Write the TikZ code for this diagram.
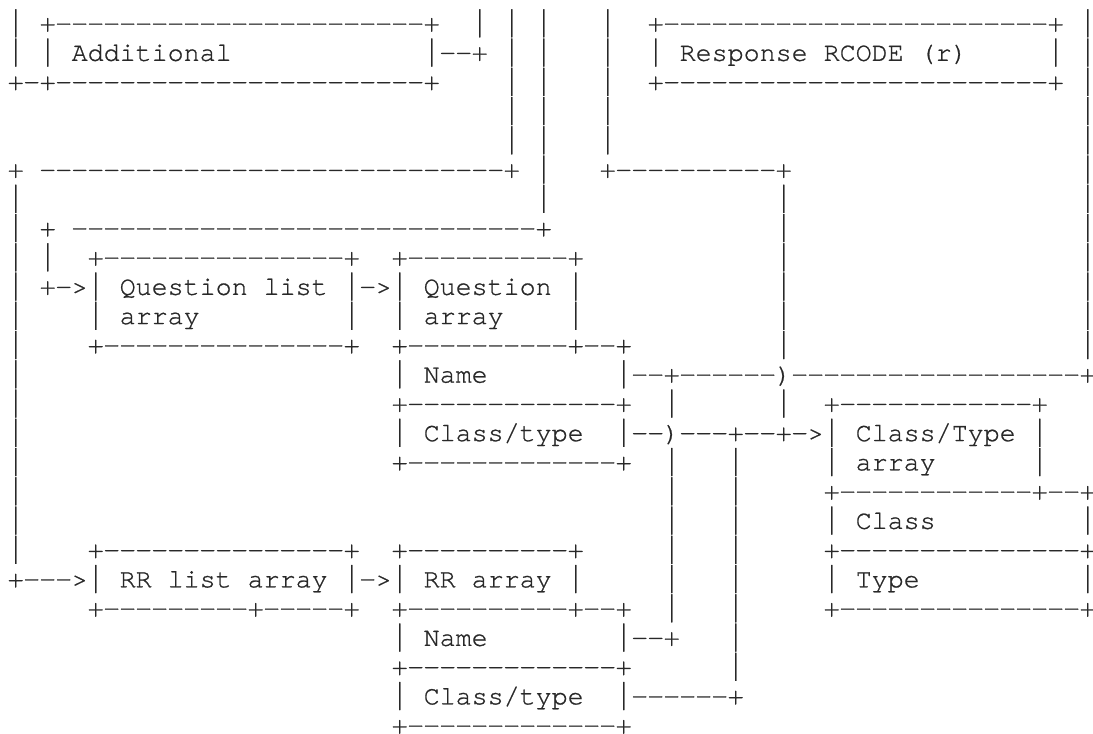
\documentclass[tikz,border=0pt]{standalone}
\usepackage{fontspec}
\usepackage{graphicx}
\newfontfamily\mono{texgyrecursor-regular}[Extension=.otf,WordSpace={1,0,0},FakeBold=0.8]
\ExplSyntaxOn
\cs_new:Npn \dsh #1 { \prg_replicate:nn {#1} { \makebox[16pt]{\scalebox{1.1}[1]{-}} } }
\cs_new:Npn \spc #1 { \prg_replicate:nn {#1} { \  } }
\ExplSyntaxOff
\newcommand\vb{\raisebox{-5.7pt}{\resizebox*{16pt}{28pt}{\raisebox{\depth}{|}}}}
\definecolor{inkc}{RGB}{40,40,40}
\frenchspacing
\begin{document}
\begin{tikzpicture}[x=1pt,y=1pt,
  row/.style={anchor=base west,inner sep=0pt,outer sep=0pt,text=inkc,
    font=\mono\fontsize{26.6667pt}{29.25pt}\selectfont}]
\fill[white] (0,0) rectangle (1093,734);
\useasboundingbox (0,0) rectangle (1093,734);
\node[row] (r0) at (7.7,702.4) {\vb\spc{1}+\dsh{23}+\spc{2}\vb\spc{1}\vb\spc{1}\vb\spc{3}\vb\spc{2}+\dsh{24}+\spc{1}\vb};
\node[row] (r1) at (7.7,673.15) {\vb\spc{1}\vb\spc{1}Additional\spc{12}\vb\dsh{2}+\spc{1}\vb\spc{1}\vb\spc{3}\vb\spc{2}\vb\spc{1}Response\spc{1}RCODE\spc{1}(r)\spc{5}\vb\spc{1}\vb};
\node[row] (r2) at (7.7,643.9) {+\dsh{1}+\dsh{23}+\spc{4}\vb\spc{1}\vb\spc{3}\vb\spc{2}+\dsh{24}+\spc{1}\vb};
\node[row] (r3) at (7.7,614.65) {\spc{31}\vb\spc{1}\vb\spc{3}\vb\spc{29}\vb};
\node[row] (r4) at (7.7,585.4) {\spc{31}\vb\spc{1}\vb\spc{3}\vb\spc{29}\vb};
\node[row] (r5) at (7.7,556.15) {+\spc{1}\dsh{29}+\spc{1}\vb\spc{3}+\dsh{10}+\spc{18}\vb};
\node[row] (r6) at (7.7,526.9) {\vb\spc{32}\vb\spc{14}\vb\spc{18}\vb};
\node[row] (r7) at (7.7,497.65) {\vb\spc{1}+\spc{1}\dsh{29}+\spc{14}\vb\spc{18}\vb};
\node[row] (r8) at (7.7,468.4) {\vb\spc{1}\vb\spc{2}+\dsh{15}+\spc{2}+\dsh{10}+\spc{12}\vb\spc{18}\vb};
\node[row] (r9) at (7.7,439.15) {\vb\spc{1}+\dsh{1}>\vb\spc{1}Question\spc{1}list\spc{1}\vb\dsh{1}>\vb\spc{1}Question\spc{1}\vb\spc{12}\vb\spc{18}\vb};
\node[row] (r10) at (7.7,409.9) {\vb\spc{4}\vb\spc{1}array\spc{9}\vb\spc{2}\vb\spc{1}array\spc{4}\vb\spc{12}\vb\spc{18}\vb};
\node[row] (r11) at (7.7,380.65) {\vb\spc{4}+\dsh{15}+\spc{2}+\dsh{10}+\dsh{2}+\spc{9}\vb\spc{18}\vb};
\node[row] (r12) at (7.7,351.4) {\vb\spc{23}\vb\spc{1}Name\spc{8}\vb\dsh{2}+\dsh{6})\dsh{18}+};
\node[row] (r13) at (7.7,322.15) {\vb\spc{23}+\dsh{13}+\spc{2}\vb\spc{6}\vb\spc{2}+\dsh{12}+};
\node[row] (r14) at (7.7,292.9) {\vb\spc{23}\vb\spc{1}Class/type\spc{2}\vb\dsh{2})\dsh{3}+\dsh{2}+\dsh{1}>\vb\spc{1}Class/Type\spc{1}\vb};
\node[row] (r15) at (7.7,263.65) {\vb\spc{23}+\dsh{13}+\spc{2}\vb\spc{3}\vb\spc{5}\vb\spc{1}array\spc{6}\vb};
\node[row] (r16) at (7.7,234.4) {\vb\spc{40}\vb\spc{3}\vb\spc{5}+\dsh{12}+\dsh{2}+};
\node[row] (r17) at (7.7,205.15) {\vb\spc{40}\vb\spc{3}\vb\spc{5}\vb\spc{1}Class\spc{9}\vb};
\node[row] (r18) at (7.7,175.9) {\vb\spc{4}+\dsh{15}+\spc{2}+\dsh{10}+\spc{5}\vb\spc{3}\vb\spc{5}+\dsh{15}+};
\node[row] (r19) at (7.7,146.65) {+\dsh{3}>\vb\spc{1}RR\spc{1}list\spc{1}array\spc{1}\vb\dsh{1}>\vb\spc{1}RR\spc{1}array\spc{1}\vb\spc{5}\vb\spc{3}\vb\spc{5}\vb\spc{1}Type\spc{10}\vb};
\node[row] (r20) at (7.7,117.4) {\spc{5}+\dsh{9}+\dsh{5}+\spc{2}+\dsh{10}+\dsh{2}+\spc{2}\vb\spc{3}\vb\spc{5}+\dsh{15}+};
\node[row] (r21) at (7.7,88.15) {\spc{24}\vb\spc{1}Name\spc{8}\vb\dsh{2}+\spc{3}\vb};
\node[row] (r22) at (7.7,58.9) {\spc{24}+\dsh{13}+\spc{6}\vb};
\node[row] (r23) at (7.7,29.65) {\spc{24}\vb\spc{1}Class/type\spc{2}\vb\dsh{6}+};
\node[row] (r24) at (7.7,0.4) {\spc{24}+\dsh{13}+};
\end{tikzpicture}
\end{document}
